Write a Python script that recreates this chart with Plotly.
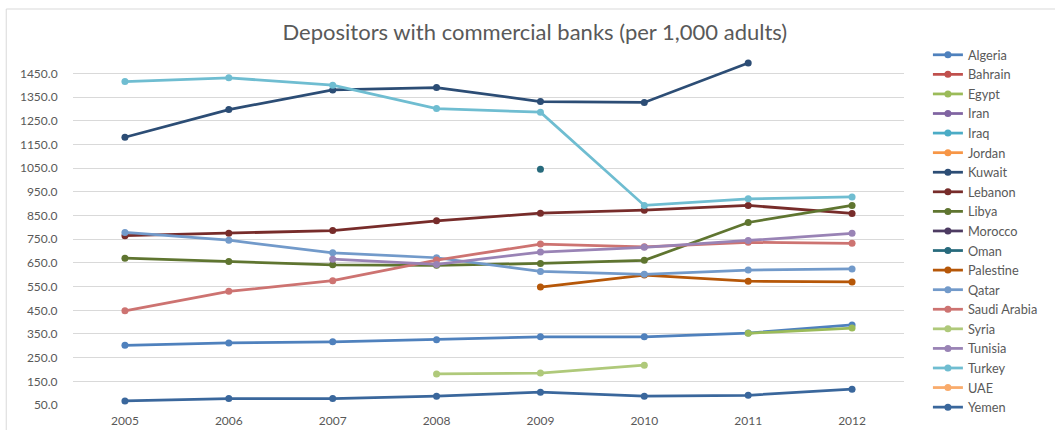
import plotly.graph_objects as go

years = ["2005", "2006", "2007", "2008", "2009", "2010", "2011", "2012"]

countries = ["Algeria", "Bahrain", "Egypt", "Iran", "Iraq", "Jordan", "Kuwait",
             "Lebanon", "Libya", "Morocco", "Oman", "Palestine", "Qatar",
             "Saudi Arabia", "Syria", "Tunisia", "Turkey", "UAE", "Yemen"]

N = None
algeria = [302, 312, 317, 326, 338, 338, 354, 388]
bahrain = [N, N, N, N, N, N, N, N]
egypt = [N, N, N, N, N, N, 353, 375]
iran = [N, N, N, N, N, N, N, N]
iraq = [N, N, N, N, N, N, N, N]
jordan = [N, N, N, N, N, N, N, N]
kuwait = [1181, 1298, 1381, 1391, 1332, 1328, 1495, N]
lebanon = [765, 775, 787, 828, 860, 873, 893, 859]
libya = [670, 656, 642, 640, 648, 661, 821, 893]
morocco = [N, N, N, N, N, N, N, N]
oman = [N, N, N, N, 1046, N, N, N]
palestine = [N, N, N, N, 548, 599, 573, 570]
qatar = [779, 746, 693, 672, 614, 602, 620, 625]
saudi_arabia = [448, 530, 575, 662, 730, 718, 737, 733]
syria = [N, N, N, 181, 185, 218, N, N]
tunisia = [N, N, 666, 644, 696, 716, 745, 775]
turkey = [1416, 1432, 1401, 1302, 1287, 893, 921, 929]
uae = [N, N, N, N, N, N, N, N]
yemen = [67, 77, 77, 87, 104, 87, 91, 117]

values = [algeria, bahrain, egypt, iran, iraq, jordan, kuwait, lebanon, libya,
          morocco, oman, palestine, qatar, saudi_arabia, syria, tunisia, turkey,
          uae, yemen]

colors = ["#4F81BD", "#C0504D", "#9BBB59", "#8064A2", "#4BACC6", "#F79646",
          "#2C4D75", "#772C2A", "#5F7530", "#4D3B62", "#276A7C", "#B65708",
          "#729ACA", "#CD7371", "#AFC97A", "#9983B5", "#6FBDD1", "#F9AB6B",
          "#3A679C"]

y_ticks = list(range(50, 1451, 100))

FONT = "Lato, Carlito, Calibri, sans-serif"
TEXT = "#595959"
GRID = "#D9D9D9"

fig = go.Figure()
for name, vals, col in zip(countries, values, colors):
    fig.add_trace(go.Scatter(
        x=years, y=vals, name=name, mode="lines+markers",
        line=dict(color=col, width=2.75),
        marker=dict(color=col, size=7),
        connectgaps=False, cliponaxis=False,
    ))

# plot area in pixels (1055 x 430 page)
W, H = 1055, 430
L, R, T, B = 73, 907, 57, 405

def px_x(p):
    return (p - L) / (R - L)

def px_y(p):
    return (B - p) / (B - T)

fig.update_layout(
    width=W, height=H,
    margin=dict(l=L, r=W - R, t=T, b=H - B, pad=0),
    paper_bgcolor="white", plot_bgcolor="white",
    font=dict(family=FONT, color=TEXT, size=12),
    title=dict(text="Depositors with commercial banks (per 1,000 adults)",
               x=0.507, xanchor="center", y=1 - 32 / H, yanchor="middle",
               font=dict(size=22, color=TEXT, family=FONT)),
    showlegend=True,
    legend=dict(x=px_x(931), xanchor="left", y=px_y(40), yanchor="top",
                font=dict(size=12.75, color=TEXT, family=FONT),
                bgcolor="rgba(0,0,0,0)", tracegroupgap=0,
                itemwidth=30, maxheight=1.0),
    xaxis=dict(type="category", range=[-0.5, 7.5], showgrid=False,
               showline=False, zeroline=False, automargin=False,
               ticks="outside", ticklen=5, tickcolor="rgba(0,0,0,0)",
               tickfont=dict(size=12, color=TEXT, family=FONT)),
    yaxis=dict(range=[50, 1520], tickmode="array", tickvals=y_ticks,
               ticktext=[f"{v:.1f}" for v in y_ticks],
               showgrid=True, gridcolor=GRID, gridwidth=1,
               zeroline=False, showline=False, automargin=False,
               ticks="outside", ticklen=12, tickcolor="rgba(0,0,0,0)",
               tickfont=dict(size=12, color=TEXT, family=FONT)),
    shapes=[dict(type="rect", xref="paper", yref="paper",
                 x0=px_x(6), x1=px_x(W + 5), y0=px_y(H + 5), y1=px_y(9),
                 line=dict(color=GRID, width=1), fillcolor="rgba(0,0,0,0)",
                 layer="below")],
)

fig.write_html("out.html")
